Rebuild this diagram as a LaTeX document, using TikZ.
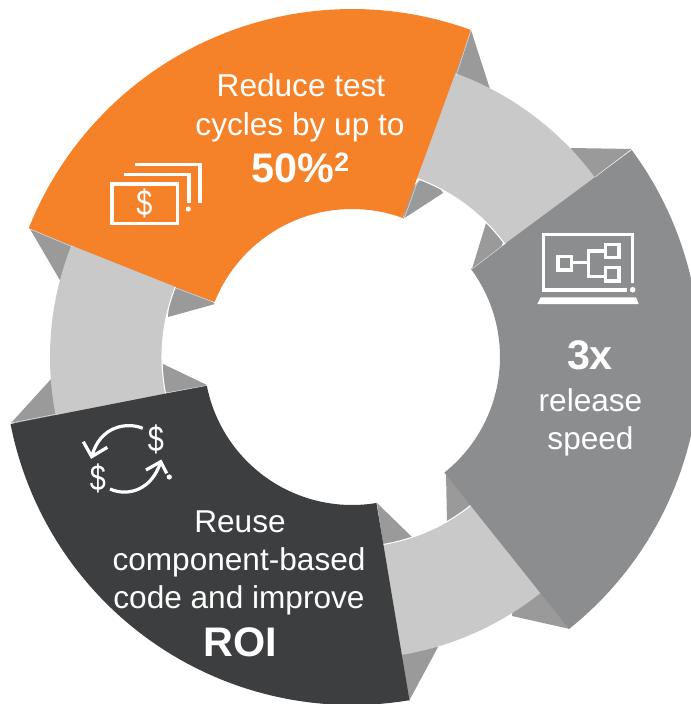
\documentclass[tikz,border=0pt]{standalone}
\usepackage{fontspec}
\setmainfont{Liberation Sans}
\definecolor{cOrange}{HTML}{F58229}
\definecolor{cDark}{HTML}{3D3E40}
\definecolor{cGray}{HTML}{8C8D8F}
\definecolor{cLight}{HTML}{C9C9C9}
\definecolor{cFold}{HTML}{9A9A9A}
% common centre of all rings
\newcommand\cx{352}
\newcommand\cy{357}
\newcommand\ringseg[5][]{%
  \fill[#1] plot[domain=#4:#5,samples=60] ({\cx+#2*cos(\x)},{\cy+#2*sin(\x)})
    -- plot[domain=#5:#4,samples=60] ({\cx+#3*cos(\x)},{\cy+#3*sin(\x)}) -- cycle;}
\newcommand\innerarc[3]{%
  \draw[whiteedge] plot[domain=#2:#3,samples=40] ({\cx+#1*cos(\x)},{\cy+#1*sin(\x)});}
\tikzset{
  fold/.style={fill=cFold},
  whiteedge/.style={draw=white,line width=0.8pt},
  hair/.style={draw=white,line width=0.35pt,opacity=.75},
  icon/.style={draw=white,line width=2.4pt,fill=none},
  icondot/.style={fill=white},
  body/.style={text=white,anchor=base,inner sep=0pt,font=\fontsize{23.7}{28}\selectfont},
  big/.style={text=white,anchor=base,inner sep=0pt,font=\fontsize{31}{36}\selectfont\bfseries},
  dollar/.style={text=white,anchor=center,inner sep=0pt,font=\fontsize{27}{30}\selectfont},
}
\begin{document}
\begin{tikzpicture}[x=0.75pt,y=-0.75pt]
\useasboundingbox (0,0) rectangle (691,704);
\clip (0,0) rectangle (691,704);
% folds
\fill[fold] (471,30) -- (490,89) -- (470,110) -- (450,60) -- cycle;
\fill[fold] (571,148) -- (632,149) -- (595,177) -- (560,170) -- cycle;
\fill[fold] (443,193) -- (403,219) -- (410,190) -- (430,170) -- cycle;
\fill[fold] (486,223) -- (472,269) -- (500,250) -- (510,225) -- cycle;
\fill[fold] (412,537) -- (377,503) -- (384,550) -- (410,560) -- cycle;
\fill[fold] (446,474) -- (447,522) -- (470,530) -- (475,500) -- cycle;
\fill[fold] (570,629) -- (512,616) -- (515,590) -- (540,590) -- cycle;
\fill[fold] (438,647) -- (409,701) -- (395,650) -- (430,630) -- cycle;
\fill[fold] (30,229) -- (61,282) -- (85,280) -- (80,240) -- cycle;
\fill[fold] (215,304) -- (168,317) -- (170,290) -- (190,280) -- cycle;
\fill[fold] (163,364) -- (207,385) -- (170,400) -- (155,380) -- cycle;
\fill[fold] (52,378) -- (11,423) -- (62,420) -- (70,390) -- cycle;
% light ring pieces
\ringseg[cLight]{302}{190}{-72}{-35}
\ringseg[cLight]{302}{190}{167}{204}
\ringseg[cLight]{302}{190}{49.5}{82.5}
\innerarc{190}{-72}{-35}
\innerarc{190}{167}{204}
\innerarc{190}{49.5}{82.5}
% main segments
\ringseg[cGray]{348}{148}{-36.5}{51.4}
\ringseg[cDark]{348}{148}{80.5}{168.9}
\ringseg[cOrange]{348}{148}{-158.3}{-70}
% hairlines
\draw[hair] (471,30) -- (456,76);
\draw[hair] (418,180) -- (404,219);
\draw[hair] (30,229) -- (73,247);
\draw[hair] (176,288) -- (216,303);
\draw[hair] (632,149) -- (595,177);
\draw[hair] (506,243) -- (472,269);
\draw[hair] (11,423) -- (57,414);
\draw[hair] (166,393) -- (207,385.5);
% money icon
\draw[icon] (112,184) rectangle (177.3,223.3);
\draw[icon] (124,174.7) -- (189,174.7) -- (189,202.7);
\draw[icon] (135.3,164.7) -- (200,164.7) -- (200,203.3);
\fill[icondot] (188.3,209) circle [radius=2.6];
\node[dollar] (d1) at (144.3,203.5) {\scalebox{.8}[1]{\$}};
% laptop icon
\draw[icon] (632.7,283.3) -- (632.7,234.7) -- (543.3,234.7) -- (543.3,290) -- (627.3,290);
\fill[icondot] (632.7,289.7) circle [radius=2.8];
\fill[white] (540.7,297.3) -- (636,297.3) -- (638.7,304) -- (537.3,304) -- cycle;
\draw[icon] (558,256.3) rectangle (571.3,270);
\draw[icon] (605.7,244.3) rectangle (619,257.7);
\draw[icon] (605.7,267.7) rectangle (619,281);
\draw[icon] (571.3,262.7) -- (588.3,262.7);
\draw[icon] (605.7,251) -- (588.3,251) -- (588.3,276.7) -- (605.7,276.7);
% swap icon
\draw[icon] (142.7,428.3) .. controls (128,422) and (100,425) .. (91.7,456.7);
\draw[icon] (83.3,441.7) -- (91.7,456.7) -- (107.3,447.3);
\draw[icon] (110,489) .. controls (128,497) and (152,490) .. (160.7,461.7);
\draw[icon] (146,470) -- (160.7,461.7) -- (166.7,473.3);
\fill[icondot] (169.3,477) circle [radius=2.6];
\node[dollar] (d2) at (156,439.3) {\scalebox{.8}[1]{\$}};
\node[dollar] (d3) at (98,478.3) {\scalebox{.8}[1]{\$}};
% texts
\node[body] (o1) at (301,96.5) {Reduce test};
\node[body] (o2) at (300,135) {cycles by up to};
\node[big] (o3) at (300.5,182.5) {50\%\raisebox{8.6pt}{\fontsize{20}{22}\selectfont 2}};
\node[big] (g1) at (590,369) {3x};
\node[body] (g2) at (590.5,411) {release};
\node[body] (g3) at (590.5,449) {speed};
\node[body] (k1) at (240,532) {Reuse};
\node[body] (k2) at (239,570.5) {component-based};
\node[body] (k3) at (239,608) {code and improve};
\node[big] (k4) at (240.3,656) {ROI};
\end{tikzpicture}
\end{document}
